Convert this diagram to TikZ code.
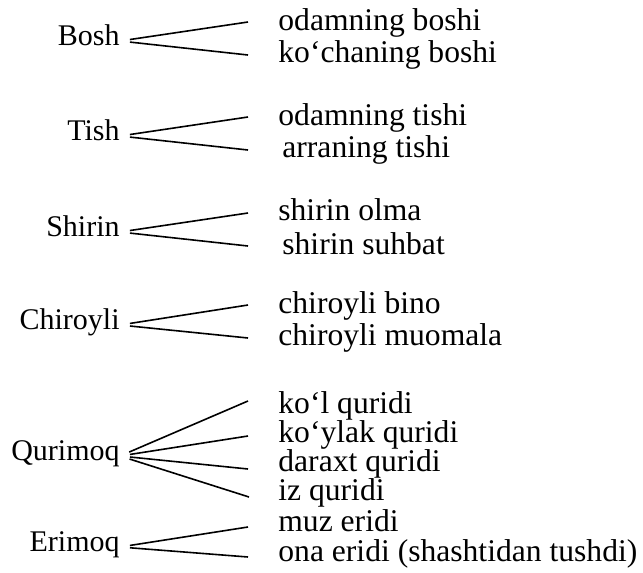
\documentclass[tikz,border=0pt]{standalone}
\usepackage{fontspec}
\setmainfont{Liberation Serif}

\tikzset{
    word/.style={inner sep=0pt, anchor=mid east, font=\fontsize{15}{18}\selectfont},
    sense/.style={inner sep=0pt, anchor=mid west, font=\fontsize{15.8}{18}\selectfont},
    fork/.style={line width=0.8pt, shorten <=5pt},
}

\begin{document}
\begin{tikzpicture}[x=0.5pt, y=-0.5pt]
            \useasboundingbox (0,0) rectangle (643,573);

            \node[word] (bosh) at (120,41) {Bosh};
            \node[sense] (bosh1) at (278,26) {odamning boshi};
            \node[sense] (bosh2) at (278,58) {ko‘chaning boshi};
            \coordinate (bosh1end) at (248,22);
            \coordinate (bosh2end) at (248,55);
            \draw[fork] (bosh.mid east) -- (bosh1end);
            \draw[fork] (bosh.mid east) -- (bosh2end);

            \node[word] (tish) at (120,136) {Tish};
            \node[sense] (tish1) at (278,121) {odamning tishi};
            \node[sense] (tish2) at (282,153) {arraning tishi};
            \coordinate (tish1end) at (248,117);
            \coordinate (tish2end) at (248,150);
            \draw[fork] (tish.mid east) -- (tish1end);
            \draw[fork] (tish.mid east) -- (tish2end);

            \node[word] (shirin) at (120,232) {Shirin};
            \node[sense] (shirin1) at (278,216) {shirin olma};
            \node[sense] (shirin2) at (282,250) {shirin suhbat};
            \coordinate (shirin1end) at (248,213);
            \coordinate (shirin2end) at (248,246);
            \draw[fork] (shirin.mid east) -- (shirin1end);
            \draw[fork] (shirin.mid east) -- (shirin2end);

            \node[word] (chiroyli) at (120,325) {Chiroyli};
            \node[sense] (chiroyli1) at (278,309) {chiroyli bino};
            \node[sense] (chiroyli2) at (278,341) {chiroyli muomala};
            \coordinate (chiroyli1end) at (248,305);
            \coordinate (chiroyli2end) at (248,338);
            \draw[fork] (chiroyli.mid east) -- (chiroyli1end);
            \draw[fork] (chiroyli.mid east) -- (chiroyli2end);

            \node[word] (qurimoq) at (120,456) {Qurimoq};
            \node[sense] (qurimoq1) at (278,409) {ko‘l quridi};
            \node[sense] (qurimoq2) at (278,438) {ko‘ylak quridi};
            \node[sense] (qurimoq3) at (278,467) {daraxt quridi};
            \node[sense] (qurimoq4) at (278,496) {iz quridi};
            \coordinate (qurimoq1end) at (248,401);
            \coordinate (qurimoq2end) at (248,436);
            \coordinate (qurimoq3end) at (248,469);
            \coordinate (qurimoq4end) at (249,497);
            \foreach \i in {1,...,4}
                \draw[fork] (qurimoq.mid east) -- (qurimoq\i end);

            \node[word] (erimoq) at (120,547) {Erimoq};
            \node[sense] (erimoq1) at (278,527) {muz eridi};
            \node[sense] (erimoq2) at (278,557) {ona eridi (shashtidan tushdi)};
            \coordinate (erimoq1end) at (248,527);
            \coordinate (erimoq2end) at (248,557);
            \draw[fork] (erimoq.mid east) -- (erimoq1end);
            \draw[fork] (erimoq.mid east) -- (erimoq2end);
        \end{tikzpicture}
\end{document}
